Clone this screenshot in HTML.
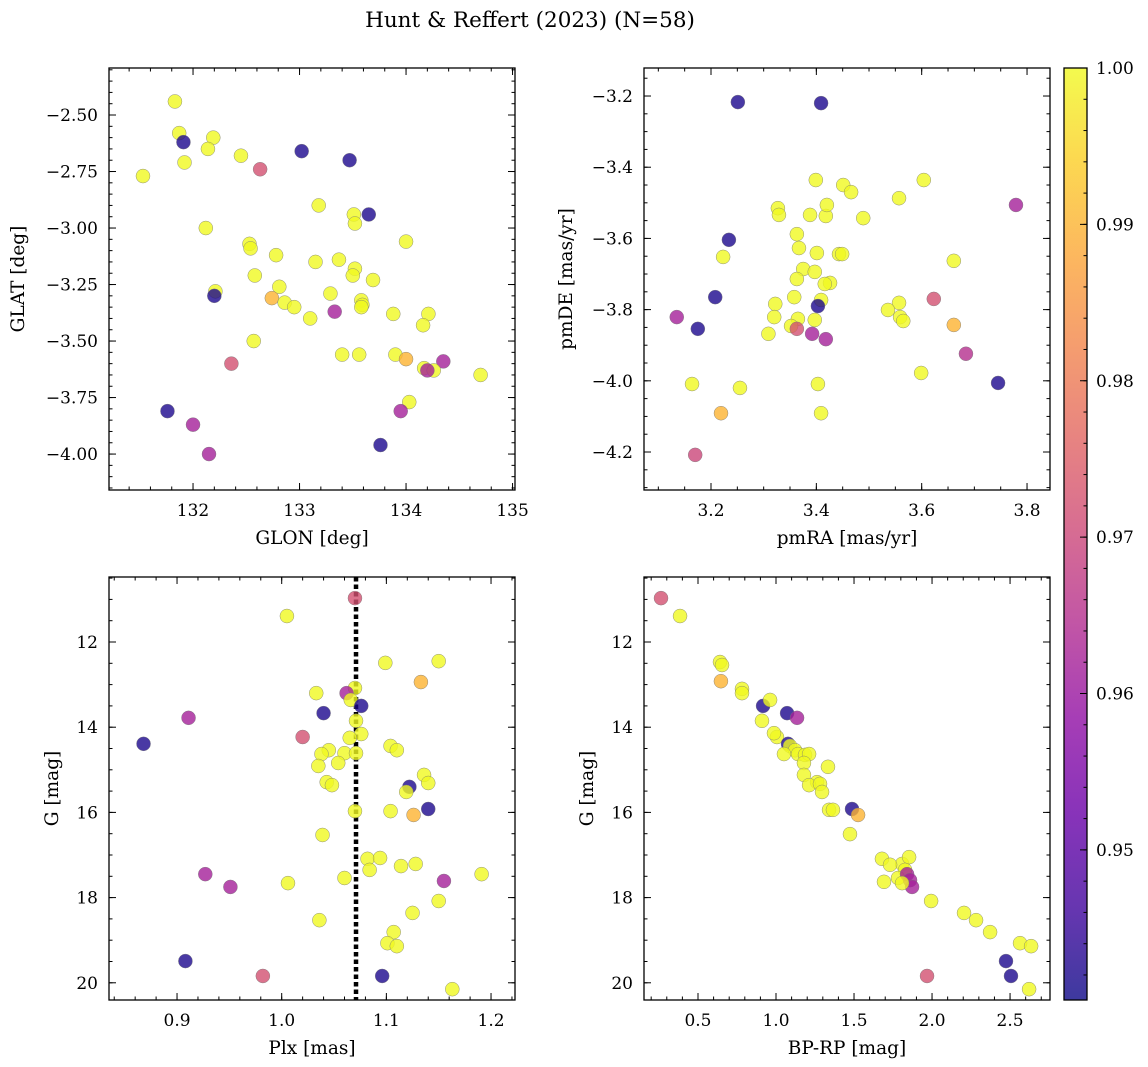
<!DOCTYPE html>
<html><head><meta charset="utf-8"><style>
html,body{margin:0;padding:0;background:#fff;}
svg{display:block;font-family:"DejaVu Serif","Liberation Serif",serif;}
</style></head><body>
<svg id="fig" width="1148" height="1067" viewBox="0 0 1148 1067" xmlns="http://www.w3.org/2000/svg">
<defs>
<linearGradient id="plasma" x1="0" y1="1" x2="0" y2="0">
<stop offset="0" stop-color="#0d0887"/><stop offset="0.1" stop-color="#41049d"/><stop offset="0.2" stop-color="#6a00a8"/><stop offset="0.3" stop-color="#8f0da4"/><stop offset="0.4" stop-color="#b12a90"/><stop offset="0.5" stop-color="#cc4778"/><stop offset="0.6" stop-color="#e16462"/><stop offset="0.7" stop-color="#f2844b"/><stop offset="0.8" stop-color="#fca636"/><stop offset="0.9" stop-color="#fcce25"/><stop offset="1" stop-color="#f0f921"/>
</linearGradient>
</defs>
<text x="530" y="27" text-anchor="middle" font-size="21.5">Hunt &amp; Reffert (2023) (N=58)</text>
</svg>
<script>
// Panel 1: GLON / GLAT
const p1Lon=[131.83,131.53,131.87,131.91,132.19,132.14,131.92,132.45,132.63,133.02,133.47,133.18,133.65,133.51,133.52,132.12,134.00,132.53,132.54,132.78,133.15,133.37,133.52,133.50,132.58,133.69,132.81,132.21,132.20,132.74,132.86,132.95,133.29,133.58,133.59,133.58,133.10,133.33,133.88,134.21,134.16,132.57,133.40,133.56,133.90,134.00,134.35,132.36,134.17,134.26,134.20,134.70,134.03,131.76,133.95,132.00,133.76,132.15];
const p1Lat=[-2.44,-2.77,-2.58,-2.62,-2.60,-2.65,-2.71,-2.68,-2.74,-2.66,-2.70,-2.90,-2.94,-2.94,-2.98,-3.00,-3.06,-3.07,-3.09,-3.12,-3.15,-3.14,-3.18,-3.21,-3.21,-3.23,-3.26,-3.28,-3.30,-3.31,-3.33,-3.35,-3.29,-3.32,-3.34,-3.35,-3.40,-3.37,-3.38,-3.38,-3.43,-3.50,-3.56,-3.56,-3.56,-3.58,-3.59,-3.60,-3.62,-3.63,-3.63,-3.65,-3.77,-3.81,-3.81,-3.87,-3.96,-4.00];
const p1Prob=[1,1,1,0.942,1,1,1,1,0.972,0.942,0.942,1,0.942,1,1,1,1,1,1,1,1,1,1,1,1,1,1,1,0.942,0.99,1,1,1,1,1,1,1,0.962,1,1,1,1,1,1,1,0.99,0.962,0.972,1,1,0.962,1,1,0.942,0.962,0.962,0.942,0.962];
// Panel 2: pmRA / pmDE
const p2PmRA=[3.251,3.409,3.779,3.557,3.604,3.399,3.451,3.466,3.327,3.329,3.388,3.418,3.420,3.489,3.234,3.363,3.367,3.401,3.443,3.449,3.661,3.223,3.375,3.397,3.363,3.426,3.416,3.358,3.409,3.208,3.623,3.403,3.322,3.557,3.536,3.559,3.565,3.320,3.365,3.397,3.661,3.352,3.363,3.135,3.175,3.392,3.418,3.309,3.684,3.599,3.745,3.403,3.164,3.255,3.409,3.219,3.170];
const p2PmDE=[-3.217,-3.220,-3.506,-3.487,-3.436,-3.436,-3.450,-3.470,-3.515,-3.534,-3.534,-3.537,-3.506,-3.543,-3.604,-3.588,-3.627,-3.641,-3.644,-3.644,-3.663,-3.652,-3.686,-3.694,-3.714,-3.725,-3.728,-3.765,-3.773,-3.765,-3.770,-3.790,-3.784,-3.781,-3.801,-3.821,-3.832,-3.821,-3.826,-3.829,-3.843,-3.846,-3.854,-3.821,-3.854,-3.868,-3.883,-3.868,-3.924,-3.978,-4.006,-4.009,-4.009,-4.020,-4.091,-4.091,-4.208];
const p2Prob=[0.942,0.942,0.962,1,1,1,1,1,1,1,1,1,1,1,0.942,1,1,1,1,1,1,1,1,1,1,1,1,1,1,0.942,0.972,0.942,1,1,1,1,1,1,1,1,0.99,1,0.972,0.962,0.942,0.962,0.962,1,0.965,1,0.942,1,1,1,1,0.99,0.97];
// Panel 3: Plx / G
const p3Plx=[1.070,1.005,1.099,1.150,1.133,1.070,1.033,1.062,1.066,1.076,0.911,1.040,1.071,0.868,1.020,1.076,1.065,1.104,1.110,1.045,1.038,1.060,1.071,1.054,1.035,1.136,1.043,1.048,1.140,1.122,1.119,1.140,1.070,1.104,1.126,1.039,1.082,1.094,1.128,1.114,1.084,1.060,0.927,1.191,1.155,1.006,0.951,1.150,1.125,1.036,1.107,1.101,1.110,0.908,0.982,1.096,1.163];
const p3G=[10.97,11.39,12.49,12.45,12.94,13.08,13.20,13.20,13.36,13.50,13.78,13.67,13.85,14.39,14.23,14.16,14.25,14.44,14.54,14.54,14.63,14.61,14.61,14.84,14.91,15.12,15.29,15.36,15.31,15.40,15.52,15.92,15.97,15.97,16.06,16.53,17.09,17.07,17.21,17.26,17.35,17.54,17.45,17.45,17.61,17.66,17.75,18.08,18.36,18.53,18.81,19.07,19.14,19.49,19.84,19.84,20.15];
const p3Prob=[0.972,1,1,1,0.99,1,1,0.962,1,0.942,0.962,0.942,1,0.942,0.972,1,1,1,1,1,1,1,1,1,1,1,1,1,1,0.942,1,0.942,1,1,0.99,1,1,1,1,1,1,1,0.962,1,0.962,1,0.962,1,1,1,1,1,1,0.942,0.972,0.942,1];
const plxLine=1.071;
// Panel 4: BP-RP / G
const p4Color=[0.263,0.385,0.641,0.654,0.647,0.782,0.782,0.917,0.962,1.071,1.135,0.910,1.006,0.987,1.077,1.090,1.122,1.141,1.186,1.051,1.212,1.179,1.333,1.179,1.263,1.212,1.282,1.295,1.340,1.365,1.487,1.526,1.474,1.679,1.808,1.731,1.853,1.827,1.692,1.782,1.840,1.859,1.872,1.808,1.994,2.205,2.282,2.372,2.564,2.635,2.474,2.506,1.968,2.622];
const p4G=[10.97,11.39,12.47,12.54,12.92,13.10,13.20,13.50,13.36,13.67,13.78,13.85,14.23,14.14,14.39,14.44,14.54,14.63,14.65,14.63,14.63,14.84,14.93,15.12,15.29,15.36,15.33,15.52,15.94,15.94,15.92,16.06,16.51,17.09,17.21,17.23,17.05,17.35,17.63,17.54,17.45,17.59,17.75,17.66,18.08,18.36,18.53,18.81,19.07,19.14,19.49,19.84,19.84,20.15];
const p4Prob=[0.972,1,1,1,0.99,1,1,0.942,1,0.942,0.962,1,1,1,0.942,1,1,1,1,1,1,1,1,1,1,1,1,1,1,1,0.942,0.99,1,1,1,1,1,1,1,1,0.962,0.962,0.962,1,1,1,1,1,1,1,0.942,0.942,0.972,1];
const cbTicks=[0.95,0.96,0.97,0.98,0.99,1.00];
const cbMin=0.9404, cbMax=1.0;

const NS='http://www.w3.org/2000/svg';
const svg=document.getElementById('fig');
const stops=[[13,8,135],[65,4,157],[106,0,168],[143,13,164],[177,42,144],[204,71,120],[225,100,98],[242,132,75],[252,166,54],[252,206,37],[240,249,33]];
function plasma(t){t=Math.max(0,Math.min(1,t));const f=t*10,i=Math.min(9,Math.floor(f)),r=f-i;const a=stops[i],b=stops[i+1];return 'rgb('+a.map((v,k)=>Math.round(v+(b[k]-v)*r)).join(',')+')';}
function mk(tag,attrs,parent){const e=document.createElementNS(NS,tag);for(const k in attrs)e.setAttribute(k,attrs[k]);(parent||svg).appendChild(e);return e;}
function range(a,b,s){const r=[];for(let v=a;v<=b+1e-9;v+=s)r.push(+v.toFixed(6));return r;}
const TF=17, LF=18.5;

function panel(o){
  const g=mk('g',{});
  
  
  const X=v=>o.x0+(v-o.xd[0])/(o.xd[1]-o.xd[0])*(o.x1-o.x0);
  const Y=v=>o.y0+(v-o.yd[0])/(o.yd[1]-o.yd[0])*(o.y1-o.y0);
  if(o.vline!==undefined){
    const l=mk('line',{x1:X(o.vline),x2:X(o.vline),y1:o.y0,y2:o.y1,stroke:'#000','stroke-width':4.5,'stroke-dasharray':'4.5,3'},g);
    
    
  }
  for(let i=0;i<o.xs.length;i++){
    const c=mk('circle',{cx:X(o.xs[i]),cy:Y(o.ys[i]),r:7,fill:plasma((o.ps[i]-cbMin)/(cbMax-cbMin)),'fill-opacity':0.8,stroke:'#777','stroke-width':0.5,'stroke-opacity':0.8},g);
    
    
  }
  mk('rect',{x:o.x0,y:o.y0,width:o.x1-o.x0,height:o.y1-o.y0,fill:'none',stroke:'#000','stroke-width':1.3},g);
  const lo=Math.min(o.xd[0],o.xd[1]),hi=Math.max(o.xd[0],o.xd[1]);
  range(Math.ceil(lo/o.xminor)*o.xminor,hi,o.xminor).forEach(v=>{const x=X(v);mk('line',{x1:x,x2:x,y1:o.y1,y2:o.y1-3.5,stroke:'#000'},g);mk('line',{x1:x,x2:x,y1:o.y0,y2:o.y0+3.5,stroke:'#000'},g);});
  o.xticks.forEach(v=>{const x=X(v);mk('line',{x1:x,x2:x,y1:o.y1,y2:o.y1-7,stroke:'#000'},g);mk('line',{x1:x,x2:x,y1:o.y0,y2:o.y0+7,stroke:'#000'},g);
    const t=mk('text',{x:x,y:o.y1+26,'text-anchor':'middle','font-size':TF},g);t.textContent=v.toFixed(o.xdec);
    
    });
  const ylo=Math.min(o.yd[0],o.yd[1]),yhi=Math.max(o.yd[0],o.yd[1]);
  range(Math.ceil(ylo/o.yminor-1e-6)*o.yminor,yhi,o.yminor).forEach(v=>{const y=Y(v);mk('line',{x1:o.x0,x2:o.x0+3.5,y1:y,y2:y,stroke:'#000'},g);mk('line',{x1:o.x1,x2:o.x1-3.5,y1:y,y2:y,stroke:'#000'},g);});
  o.yticks.forEach(v=>{const y=Y(v);mk('line',{x1:o.x0,x2:o.x0+7,y1:y,y2:y,stroke:'#000'},g);mk('line',{x1:o.x1,x2:o.x1-7,y1:y,y2:y,stroke:'#000'},g);
    const t=mk('text',{x:o.x0-11,y:y+6,'text-anchor':'end','font-size':TF},g);t.textContent=(v<0?'\u2212':'')+Math.abs(v).toFixed(o.ydec);
    
    });
  const xl=mk('text',{x:(o.x0+o.x1)/2,y:o.y1+54,'text-anchor':'middle','font-size':LF},g);xl.textContent=o.xlabel;
  
  
  const yl=mk('text',{x:0,y:0,'text-anchor':'middle','font-size':LF,transform:'translate('+o.ylx+','+((o.y0+o.y1)/2)+') rotate(-90)'},g);yl.textContent=o.ylabel;
  
  
}

panel({name:'glon-glat-panel',x0:109,x1:515,y0:68,y1:490,xd:[131.211,135.023],yd:[-2.292,-4.159],xs:p1Lon,ys:p1Lat,ps:p1Prob,xticks:[132,133,134,135],xminor:0.2,xdec:0,yticks:[-2.5,-2.75,-3,-3.25,-3.5,-3.75,-4],yminor:0.05,ydec:2,xlabel:'GLON [deg]',ylabel:'GLAT [deg]',ylx:24});
panel({name:'proper-motion-panel',x0:644,x1:1050,y0:68,y1:490,xd:[3.0728,3.8436],yd:[-3.1213,-4.3067],xs:p2PmRA,ys:p2PmDE,ps:p2Prob,xticks:[3.2,3.4,3.6,3.8],xminor:0.05,xdec:1,yticks:[-3.2,-3.4,-3.6,-3.8,-4.0,-4.2],yminor:0.05,ydec:1,xlabel:'pmRA [mas/yr]',ylabel:'pmDE [mas/yr]',ylx:572});
panel({name:'parallax-magnitude-panel',x0:109,x1:515,y0:577,y1:1000,xd:[0.835,1.2229],yd:[10.474,20.404],xs:p3Plx,ys:p3G,ps:p3Prob,vline:plxLine,xticks:[0.9,1.0,1.1,1.2],xminor:0.02,xdec:1,yticks:[12,14,16,18,20],yminor:0.5,ydec:0,xlabel:'Plx [mas]',ylabel:'G [mag]',ylx:58});
panel({name:'color-magnitude-panel',x0:644,x1:1050,y0:577,y1:1000,xd:[0.154,2.756],yd:[10.474,20.404],xs:p4Color,ys:p4G,ps:p4Prob,xticks:[0.5,1.0,1.5,2.0,2.5],xminor:0.1,xdec:1,yticks:[12,14,16,18,20],yminor:0.5,ydec:0,xlabel:'BP-RP [mag]',ylabel:'G [mag]',ylx:593});

// colorbar
const cb=mk('g',{});


const cx0=1064,cx1=1087,cy0=68,cy1=1000;
mk('rect',{x:cx0,y:cy0,width:cx1-cx0,height:cy1-cy0,fill:'url(#plasma)','fill-opacity':0.8},cb);
mk('rect',{x:cx0,y:cy0,width:cx1-cx0,height:cy1-cy0,fill:'none',stroke:'#000','stroke-width':1.3},cb);
const CY=v=>cy1-(v-cbMin)/(cbMax-cbMin)*(cy1-cy0);
range(0.942,1.0,0.002).forEach(v=>{const y=CY(v);mk('line',{x1:cx1,x2:cx1-3.5,y1:y,y2:y,stroke:'#000'},cb);});
cbTicks.forEach(v=>{const y=CY(v);mk('line',{x1:cx1,x2:cx1-7,y1:y,y2:y,stroke:'#000'},cb);
  const t=mk('text',{x:cx1+9,y:y+6,'font-size':TF},cb);t.textContent=v.toFixed(2);
  
  });
</script>
</body></html>
